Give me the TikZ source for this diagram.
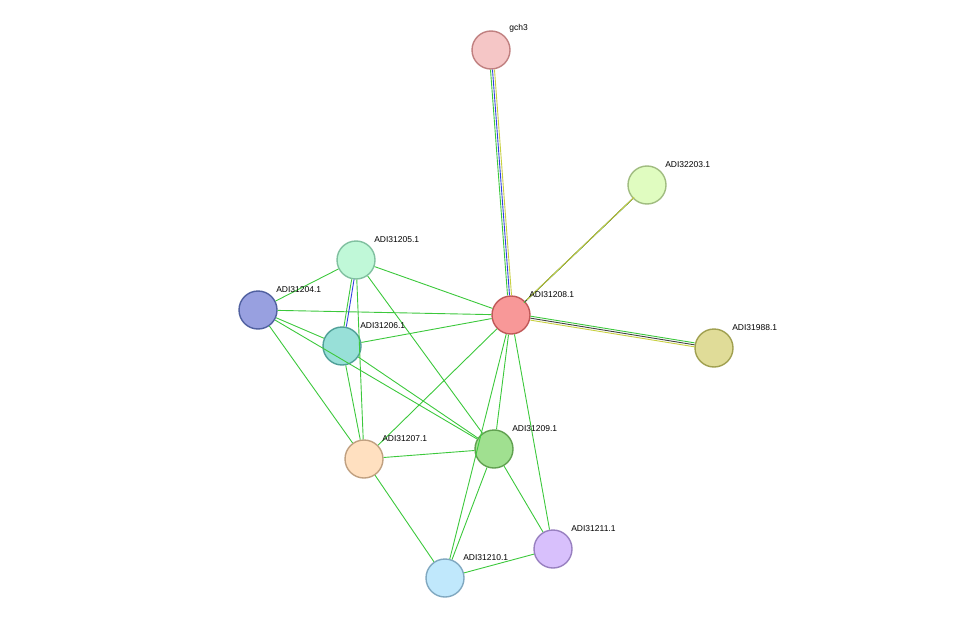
\documentclass[tikz,border=0pt]{standalone}
\usepackage{fontspec}
\setmainfont{Liberation Sans}
\usetikzlibrary{positioning}
\definecolor{edgegreen}{HTML}{3CC83C}
\definecolor{edgeblue}{HTML}{3040E0}
\definecolor{edgeyellow}{HTML}{C8D040}
\definecolor{edgedark}{HTML}{404040}
\begin{document}
\begin{tikzpicture}[x=1pt,y=-1pt,semithick]
\tikzstyle{prot}=[draw, circle, line width=1.4pt, minimum size=38pt, inner sep=0pt]
\tikzstyle{lbl}=[anchor=south west, font=\fontsize{8.5}{10}\selectfont, inner sep=1pt]
\tikzstyle{link}=[edgegreen, line width=0.9pt]
\useasboundingbox (0,0) rectangle (976,623);
% proteins
\node[prot, fill={rgb,255:red,245;green,198;blue,198}, draw={rgb,255:red,192;green,128;blue,128}] (gch3) at (491,50) {};
\node[prot, fill={rgb,255:red,224;green,252;blue,192}, draw={rgb,255:red,160;green,188;blue,128}] (a32203) at (647,185) {};
\node[prot, fill={rgb,255:red,192;green,248;blue,216}, draw={rgb,255:red,128;green,192;blue,160}] (a205) at (356,260) {};
\node[prot, fill={rgb,255:red,152;green,160;blue,224}, draw={rgb,255:red,80;green,96;blue,160}] (a204) at (258,310) {};
\node[prot, fill={rgb,255:red,248;green,152;blue,152}, draw={rgb,255:red,192;green,88;blue,88}] (a208) at (511,315) {};
\node[prot, fill={rgb,255:red,152;green,224;blue,216}, draw={rgb,255:red,80;green,160;blue,152}] (a206) at (342,346) {};
\node[prot, fill={rgb,255:red,224;green,220;blue,152}, draw={rgb,255:red,160;green,160;blue,80}] (a31988) at (714,348) {};
\node[prot, fill={rgb,255:red,160;green,224;blue,144}, draw={rgb,255:red,96;green,160;blue,80}] (a209) at (494,449) {};
\node[prot, fill={rgb,255:red,255;green,224;blue,192}, draw={rgb,255:red,192;green,160;blue,128}] (a207) at (364,459) {};
\node[prot, fill={rgb,255:red,216;green,192;blue,252}, draw={rgb,255:red,152;green,128;blue,192}] (a211) at (553,549) {};
\node[prot, fill={rgb,255:red,192;green,232;blue,252}, draw={rgb,255:red,128;green,168;blue,192}] (a210) at (445,578) {};
% links
\begin{scope}[on background layer/.style={}]
\foreach \s/\t in {a205/a204,a205/a208,a205/a207,a205/a209,a204/a208,a204/a206,a204/a207,a204/a209,
  a206/a208,a206/a207,a206/a209,a208/a207,a208/a209,a208/a211,a208/a210,a207/a209,a207/a210,
  a209/a210,a209/a211,a210/a211}
  \draw[link] (\s) -- (\t);
\draw[link, transform canvas={xshift=-1.2pt}] (a205) -- (a206);
\draw[edgeblue, line width=0.9pt, transform canvas={xshift=1.2pt}] (a205) -- (a206);
\draw[link, transform canvas={xshift=-2pt}] (gch3) -- (a208);
\draw[edgeblue, line width=0.9pt] (gch3) -- (a208);
\draw[edgeyellow, line width=0.9pt, transform canvas={xshift=2pt}] (gch3) -- (a208);
\draw[link, transform canvas={shift={(-1.4pt,-1.4pt)}}] (a32203) -- (a208);
\draw[edgedark, line width=0.9pt] (a32203) -- (a208);
\draw[edgeyellow, line width=0.9pt, transform canvas={shift={(1.4pt,1.4pt)}}] (a32203) -- (a208);
\draw[link, transform canvas={yshift=2pt}] (a31988) -- (a208);
\draw[edgedark, line width=0.9pt] (a31988) -- (a208);
\draw[edgeyellow, line width=0.9pt, transform canvas={yshift=-2pt}] (a31988) -- (a208);
\end{scope}
% redraw nodes on top
\foreach \n in {gch3,a32203,a205,a204,a208,a206,a31988,a209,a207,a211,a210}
  \path (\n);
% labels
\node[lbl] (lgch3) at (gch3.center) [xshift=17pt, yshift=16pt] {gch3};
\node[lbl] (l32203) at (a32203.center) [xshift=17pt, yshift=16pt] {ADI32203.1};
\node[lbl] (l205) at (a205.center) [xshift=17pt, yshift=16pt] {ADI31205.1};
\node[lbl] (l204) at (a204.center) [xshift=17pt, yshift=16pt] {ADI31204.1};
\node[lbl] (l208) at (a208.center) [xshift=17pt, yshift=16pt] {ADI31208.1};
\node[lbl] (l206) at (a206.center) [xshift=17pt, yshift=16pt] {ADI31206.1};
\node[lbl] (l31988) at (a31988.center) [xshift=17pt, yshift=16pt] {ADI31988.1};
\node[lbl] (l209) at (a209.center) [xshift=17pt, yshift=16pt] {ADI31209.1};
\node[lbl] (l207) at (a207.center) [xshift=17pt, yshift=16pt] {ADI31207.1};
\node[lbl] (l211) at (a211.center) [xshift=17pt, yshift=16pt] {ADI31211.1};
\node[lbl] (l210) at (a210.center) [xshift=17pt, yshift=16pt] {ADI31210.1};
\end{tikzpicture}
\end{document}
